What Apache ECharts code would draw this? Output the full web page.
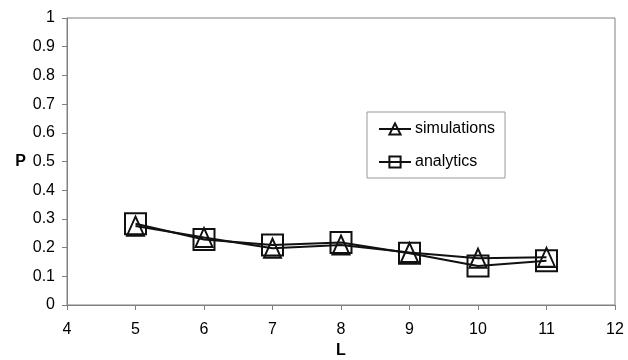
<!DOCTYPE html>
<html>
<head>
<meta charset="utf-8">
<script src="https://cdn.jsdelivr.net/npm/echarts@6/dist/echarts.min.js"></script>
<style>
html,body{margin:0;padding:0;background:#fff;}
#chart{width:628px;height:360px;}
</style>
</head>
<body>
<div id="chart"></div>
<script>
var L = [5, 6, 7, 8, 9, 10, 11];
var simulations = [0.275, 0.235, 0.198, 0.209, 0.183, 0.163, 0.166];
var analytics = [0.283, 0.228, 0.209, 0.218, 0.180, 0.136, 0.154];
var xTicks = [4, 12, 1];
var yTicks = [0, 1, 0.1];

function pairs(xs, ys) { return xs.map(function (x, i) { return [x, ys[i]]; }); }

var font = 'Liberation Sans, Arial, sans-serif';
var chart = echarts.init(document.getElementById('chart'), null, {renderer: 'canvas'});
chart.setOption({
  animation: false,
  backgroundColor: '#fff',
  textStyle: {fontFamily: font, color: '#000'},
  grid: {left: 67, right: 13, top: 18, bottom: 55, containLabel: false, outerBoundsMode: 'none',
         show: true, borderColor: '#808080', borderWidth: 1, backgroundColor: 'transparent'},
  legend: {
    orient: 'vertical', left: 367, top: 112,
    padding: [9, 10, 8, 11], itemGap: 17, itemWidth: 32, itemHeight: 14,
    borderColor: '#999', borderWidth: 1,
    textStyle: {fontFamily: font, fontSize: 16, color: '#000', padding: [0, 0, 0, -1]},
    data: ['simulations', 'analytics']
  },
  xAxis: {
    type: 'value', min: xTicks[0], max: xTicks[1], interval: xTicks[2],
    name: 'L', nameLocation: 'middle', nameGap: 35,
    nameTextStyle: {fontFamily: font, fontSize: 16, fontWeight: 'bold', color: '#000'},
    axisLine: {lineStyle: {color: '#808080', width: 1}},
    axisTick: {show: true, inside: false, length: 5, lineStyle: {color: '#808080'}},
    axisLabel: {fontFamily: font, fontSize: 16, color: '#000', margin: 17},
    splitLine: {show: false}
  },
  yAxis: {
    type: 'value', min: yTicks[0], max: yTicks[1], interval: yTicks[2],
    name: 'P', nameLocation: 'middle', nameGap: 41, nameRotate: 0,
    nameTextStyle: {fontFamily: font, fontSize: 16, fontWeight: 'bold', color: '#000'},
    axisLine: {show: true, lineStyle: {color: '#808080', width: 1}},
    axisTick: {show: true, inside: false, length: 5, lineStyle: {color: '#808080'}},
    axisLabel: {fontFamily: font, fontSize: 16, color: '#000', margin: 12},
    splitLine: {show: false}
  },
  series: [
    {
      name: 'simulations', type: 'line', data: pairs(L, simulations),
      symbol: 'triangle', symbolSize: [17, 19],
      lineStyle: {color: '#111', width: 2},
      itemStyle: {color: 'rgba(0,0,0,0)', borderColor: '#111', borderWidth: 2},
      z: 3
    },
    {
      name: 'analytics', type: 'line', data: pairs(L, analytics),
      symbol: 'rect', symbolSize: 21,
      lineStyle: {color: '#111', width: 2},
      itemStyle: {color: 'rgba(0,0,0,0)', borderColor: '#111', borderWidth: 2},
      z: 2
    }
  ]
});
</script>
</body>
</html>
